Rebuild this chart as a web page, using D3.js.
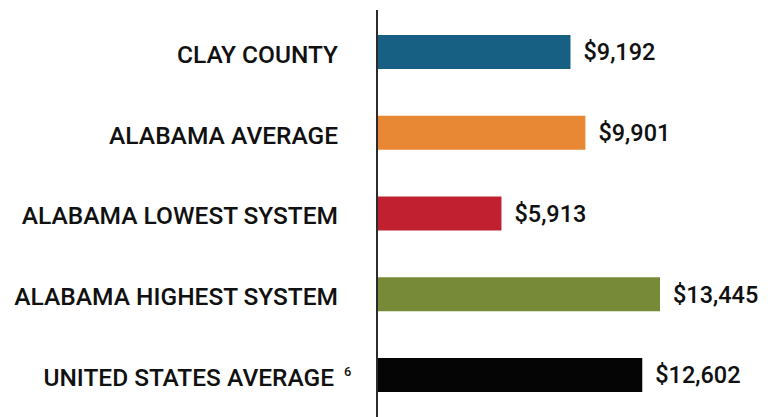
<!DOCTYPE html>
<html>
<head>
<meta charset="utf-8">
<script src="https://cdn.jsdelivr.net/npm/d3@7"></script>
<style>
  html, body { margin: 0; padding: 0; background: #fff; }
  svg { display: block; }
  text { font-family: "Roboto Medium", Roboto, "Noto Sans", sans-serif; font-weight: 500; fill: #111; }
</style>
</head>
<body>
<svg id="chart" width="778" height="417"></svg>
<script>
const categories = ["CLAY COUNTY", "ALABAMA AVERAGE", "ALABAMA LOWEST SYSTEM", "ALABAMA HIGHEST SYSTEM", "UNITED STATES AVERAGE"];
const values = [9192, 9901, 5913, 13445, 12602];
const footnotes = ["", "", "", "", "6"];
const colors = ["#176083", "#E88834", "#C0202F", "#778A37", "#050505"];

const svg = d3.select("#chart");
const axisX = 377;

const x = d3.scaleLinear().domain([0, d3.max(values)]).range([axisX, 660]);
const y = d3.scaleBand().domain(categories).range([35, 392]).paddingInner(0.579).paddingOuter(0);

const fmt = d3.format(",");

svg.selectAll("rect.bar").data(values).join("rect")
  .attr("class", "bar")
  .attr("x", x(0))
  .attr("y", (d, i) => y(categories[i]))
  .attr("width", d => x(d) - x(0))
  .attr("height", y.bandwidth())
  .attr("fill", (d, i) => colors[i]);

svg.selectAll("text.val").data(values).join("text")
  .attr("class", "val")
  .attr("x", d => x(d) + 13)
  .attr("y", (d, i) => y(categories[i]) + y.bandwidth() / 2)
  .attr("dy", "0.36em")
  .attr("font-size", 23.5)
  .text(d => "$" + fmt(d));

svg.selectAll("text.cat").data(categories).join("text")
  .attr("class", "cat")
  .attr("x", (d, i) => footnotes[i] ? 334 : 338)
  .attr("y", d => y(d) + y.bandwidth() / 2 + 2)
  .attr("dy", "0.36em")
  .attr("text-anchor", "end")
  .attr("font-size", 24.5)
  .text(d => d);

svg.selectAll("text.fn").data(categories.filter((d, i) => footnotes[i])).join("text")
  .attr("class", "fn")
  .attr("x", 344)
  .attr("y", d => y(d) + y.bandwidth() / 2 + 1)
  .attr("font-size", 13)
  .text(d => footnotes[categories.indexOf(d)]);

svg.append("line")
  .attr("x1", axisX).attr("x2", axisX)
  .attr("y1", 10).attr("y2", 417)
  .attr("stroke", "#2b2b2b")
  .attr("stroke-width", 2);
</script>
</body>
</html>
